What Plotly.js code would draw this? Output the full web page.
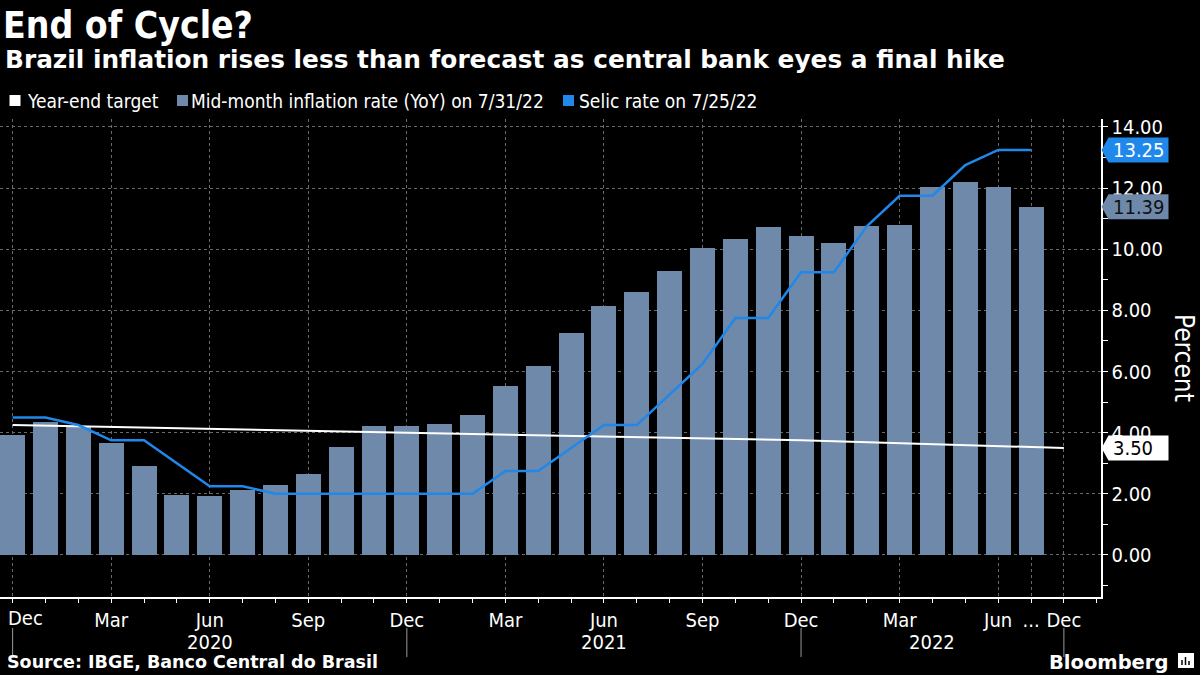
<!DOCTYPE html>
<html>
<head>
<meta charset="utf-8">
<script src="https://cdn.plot.ly/plotly-3.0.1.min.js"></script>
<style>
html,body{margin:0;padding:0;background:#000;}
#chart{width:1200px;height:675px;}
</style>
</head>
<body>
<div id="chart"></div>
<script>
// ---------------- DATA ----------------
const months = [
  "Dec 2019","Jan 2020","Feb 2020","Mar 2020","Apr 2020","May 2020","Jun 2020","Jul 2020","Aug 2020","Sep 2020","Oct 2020","Nov 2020",
  "Dec 2020","Jan 2021","Feb 2021","Mar 2021","Apr 2021","May 2021","Jun 2021","Jul 2021","Aug 2021","Sep 2021","Oct 2021","Nov 2021",
  "Dec 2021","Jan 2022","Feb 2022","Mar 2022","Apr 2022","May 2022","Jun 2022","Jul 2022","Dec 2022"
];
// Mid-month inflation rate (IPCA-15, YoY %), Dec 2019 .. Jul 2022
const inflation = [3.91,4.34,4.21,3.67,2.92,1.96,1.92,2.13,2.28,2.65,3.52,4.22,
                   4.23,4.30,4.57,5.52,6.17,7.27,8.13,8.59,9.30,10.05,10.34,10.73,
                   10.42,10.20,10.76,10.79,12.03,12.20,12.04,11.39];
// Selic rate (%), Dec 2019 .. Jul 2022
const selic = [4.50,4.50,4.25,3.75,3.75,3.00,2.25,2.25,2.00,2.00,2.00,2.00,
               2.00,2.00,2.00,2.75,2.75,3.50,4.25,4.25,5.25,6.25,7.75,7.75,
               9.25,9.25,10.75,11.75,11.75,12.75,13.25,13.25];
// Year-end inflation target (%)
const targetMonths = ["Dec 2019","Dec 2020","Dec 2021","Dec 2022"];
const targetValues = [4.25,4.00,3.75,3.50];
// Axis labels
const tickMonths = ["Dec 2019","Mar 2020","Jun 2020","Sep 2020","Dec 2020","Mar 2021","Jun 2021","Sep 2021","Dec 2021","Mar 2022","Jun 2022","Jul 2022","Dec 2022"];
const tickLabels = ["Dec","Mar","Jun","Sep","Dec","Mar","Jun","Sep","Dec","Mar","Jun","...","Dec"];
const yearLabels = ["2020","2021","2022"];
const yearBoundaries = ["Dec 2019","Dec 2020","Dec 2021","Dec 2022"];

const seriesNames = ["Year-end target","Mid-month inflation rate (YoY) on 7/31/22","Selic rate on 7/25/22"];

// ---------------- STYLE ----------------
const COND = '"DejaVu Sans Condensed", "DejaVu Sans", sans-serif';
const SANS = '"DejaVu Sans", sans-serif';
const C_BAR = '#6f89aa', C_SELIC = '#1f88ea', C_TARGET = '#ffffff', C_GRID = '#6a6a6a';

const W = 1200, H = 675, M = {l:0, r:99, t:119, b:78};
const pw = W - M.l - M.r, ph = H - M.t - M.b;
const px = x => (x - M.l) / pw;
const py = y => (H - M.b - y) / ph;
const idx = m => months.indexOf(m);

const monthIdx = inflation.map((_, i) => i);

const traces = [
  {type:'bar', x: monthIdx, y: inflation, marker:{color:C_BAR}, width:0.76, name:seriesNames[1], hoverinfo:'skip'},
  {type:'scatter', mode:'lines', x: targetMonths.map(idx), y: targetValues, line:{color:C_TARGET, width:2}, name:seriesNames[0]},
  {type:'scatter', mode:'lines', x: monthIdx, y: selic, line:{color:C_SELIC, width:2.5}, name:seriesNames[2]}
];

const shapes = [];
const annotations = [];

// first tick label is drawn left-aligned so it stays inside the picture
const axisTickText = tickLabels.map((t, i) => i === 0 ? '' : t);
annotations.push({xref:'x', yref:'paper', x:idx(tickMonths[0]), xshift:-6.6, y:py(618), xanchor:'left', yanchor:'middle', showarrow:false,
  text:tickLabels[0], font:{family:COND, size:20, color:'#fff'}});

// legend (squares + text)
const legendItems = [
  {color:C_TARGET, x:9.5, tx:25, text:seriesNames[0]},
  {color:C_BAR, x:177, tx:189, text:seriesNames[1]},
  {color:C_SELIC, x:563, tx:577, text:seriesNames[2]}
];
legendItems.forEach(it => {
  shapes.push({type:'rect', xref:'paper', yref:'paper', x0:px(it.x), x1:px(it.x+11), y0:py(106), y1:py(95), fillcolor:it.color, line:{width:0}});
  annotations.push({xref:'paper', yref:'paper', x:px(it.tx), y:py(101), xanchor:'left', yanchor:'middle', showarrow:false,
    text:it.text, font:{family:COND, size:19, color:'#fff'}});
});

// subtitle
annotations.push({xref:'paper', yref:'paper', x:px(3), y:py(59), xanchor:'left', yanchor:'middle', showarrow:false,
  text:'<b>Brazil inflation rises less than forecast as central bank eyes a final hike</b>', font:{family:SANS, size:24.8, color:'#fff'}});

// year labels & separators
yearLabels.forEach((yl, k) => {
  const a = idx(yearBoundaries[k]), b = idx(yearBoundaries[k+1]);
  annotations.push({xref:'x', yref:'paper', x:(a+b)/2, y:py(642), xanchor:'center', yanchor:'middle', showarrow:false,
    text:yl, font:{family:COND, size:20, color:'#fff'}});
});
yearBoundaries.forEach(m => {
  shapes.push({type:'line', xref:'x', yref:'paper', x0:idx(m), x1:idx(m), y0:py(628), y1:py(657), line:{color:'#9a9a9a', width:1}});
});

// right-side value tags
const tags = [
  {v: selic[selic.length-1], bg:C_SELIC, fg:'#ffffff'},
  {v: inflation[inflation.length-1], bg:C_BAR, fg:'#111111'},
  {v: targetValues[targetValues.length-1], bg:'#ffffff', fg:'#000000'}
];
tags.forEach(t => {
  shapes.push({type:'path', xref:'paper', yref:'y', xsizemode:'pixel', ysizemode:'pixel', xanchor:px(1101.5), yanchor:t.v,
    path:'M0,0 L7,12.5 L67,12.5 L67,-12.5 L7,-12.5 Z', fillcolor:t.bg, line:{width:0}, layer:'above'});
  annotations.push({xref:'paper', yref:'y', x:px(1111), y:t.v, xanchor:'left', yanchor:'middle', showarrow:false,
    text:t.v.toFixed(2), font:{family:COND, size:20, color:t.fg}});
});

// y axis title (reads top to bottom)
annotations.push({xref:'paper', yref:'paper', x:px(1184), y:py(358), xanchor:'center', yanchor:'middle', showarrow:false,
  textangle:90, text:'Percent', font:{family:COND, size:26, color:'#fff'}});

// footer
annotations.push({xref:'paper', yref:'paper', x:px(5), y:py(662), xanchor:'left', yanchor:'middle', showarrow:false,
  text:'<b>Source: IBGE, Banco Central do Brasil</b>', font:{family:SANS, size:17.5, color:'#fff'}});
annotations.push({xref:'paper', yref:'paper', x:px(1047), y:py(662), xanchor:'left', yanchor:'middle', showarrow:false,
  text:'<b>Bloomberg</b>', font:{family:SANS, size:19.5, color:'#fff'}});
// small logo mark
shapes.push({type:'rect', xref:'paper', yref:'paper', x0:px(1178), x1:px(1194), y0:py(668), y1:py(653), fillcolor:'#fff', line:{width:0}});
[1182,1185.5,1189].forEach((bx, k) => {
  shapes.push({type:'line', xref:'paper', yref:'paper', x0:px(bx), x1:px(bx), y0:py(665), y1:py(665 - [5,8,4][k]), line:{color:'#000', width:1.5}});
});

const layout = {
  width:W, height:H,
  paper_bgcolor:'#000', plot_bgcolor:'#000',
  margin:M,
  showlegend:false,
  bargap:0,
  title:{text:'<b>End of Cycle?</b>', x:3/W, xanchor:'left', y:1-25/H, yanchor:'middle',
    font:{family:COND, size:37, color:'#fff'}},
  xaxis:{
    range:[-0.384, 33.13], fixedrange:true, automargin:false,
    tickmode:'array', tickvals:tickMonths.map(idx), ticktext:axisTickText,
    showgrid:true, gridcolor:C_GRID, griddash:'dot', gridwidth:1,
    ticks:'outside', ticklen:4, tickcolor:'#fff', tickwidth:1,
    showline:true, linecolor:'#fff', linewidth:1.5, zeroline:false,
    tickfont:{family:COND, size:20, color:'#fff'},
    minor:{dtick:1, tick0:0, ticks:'outside', ticklen:4, tickcolor:'#fff', showgrid:false}
  },
  yaxis:{
    side:'right', range:[-1.374, 14.26], fixedrange:true, automargin:false,
    tick0:0, dtick:2, tickformat:'.2f',
    showgrid:true, gridcolor:C_GRID, griddash:'dot', gridwidth:1,
    ticks:'outside', ticklen:5, tickcolor:'#fff',
    showline:true, linecolor:'#fff', linewidth:1.5, zeroline:false,
    tickfont:{family:COND, size:20, color:'#fff'},
    minor:{dtick:1, tick0:0, ticks:'outside', ticklen:5, tickcolor:'#fff', showgrid:false}
  },
  shapes:shapes,
  annotations:annotations
};

Plotly.newPlot('chart', traces, layout, {staticPlot:true, displayModeBar:false});
</script>
</body>
</html>
